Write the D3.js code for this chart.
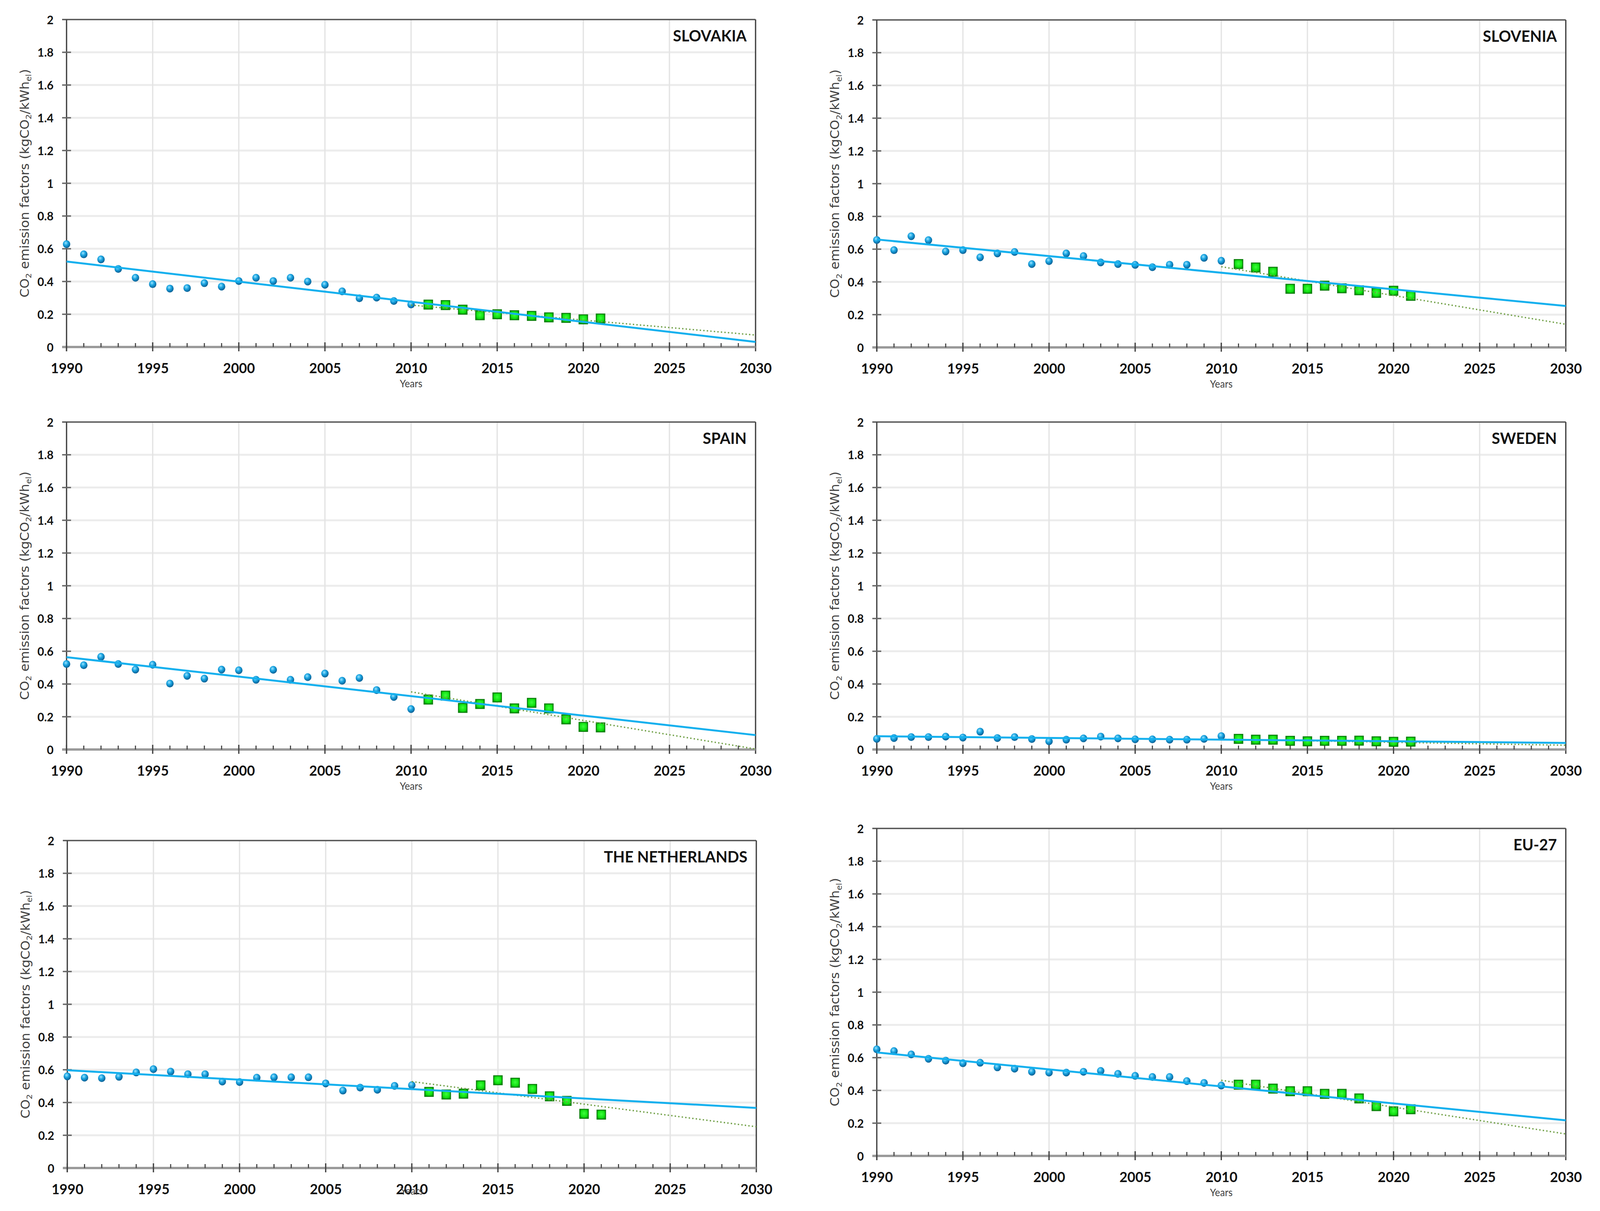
<!DOCTYPE html>
<html>
<head>
<meta charset="utf-8">
<script src="https://cdn.jsdelivr.net/npm/d3@7"></script>
<style>
  html, body { margin: 0; padding: 0; background: #fff; overflow: hidden; }
  svg { display: block; width: 100vw; height: 100vh; }
</style>
</head>
<body>
<svg id="chart" viewBox="0 0 4303 3099" preserveAspectRatio="none"></svg>
<script>
// Years: blue dots up to 2010, green squares after
const histYears = [1990, 1991, 1992, 1993, 1994, 1995, 1996, 1997, 1998, 1999, 2000,
                   2001, 2002, 2003, 2004, 2005, 2006, 2007, 2008, 2009, 2010];
const recentYears = [2011, 2012, 2013, 2014, 2015, 2016, 2017, 2018, 2019, 2020, 2021];

const xTicks = [1990, 1995, 2000, 2005, 2010, 2015, 2020, 2025, 2030];
const yTicks = [0, 0.2, 0.4, 0.6, 0.8, 1, 1.2, 1.4, 1.6, 1.8, 2];

// CO2 emission factors (kgCO2/kWh_el)
const slovakiaHist = [0.628, 0.566, 0.535, 0.477, 0.423, 0.384, 0.357, 0.36, 0.39, 0.369, 0.403,
                      0.423, 0.403, 0.423, 0.40, 0.38, 0.34, 0.298, 0.302, 0.281, 0.26];
const slovakiaRecent = [0.259, 0.256, 0.228, 0.194, 0.20, 0.194, 0.19, 0.181, 0.178, 0.169, 0.174];
const sloveniaHist = [0.656, 0.594, 0.679, 0.655, 0.586, 0.594, 0.55, 0.574, 0.583, 0.509, 0.527,
                      0.574, 0.558, 0.519, 0.509, 0.504, 0.49, 0.505, 0.505, 0.547, 0.529];
const sloveniaRecent = [0.509, 0.488, 0.462, 0.358, 0.358, 0.377, 0.361, 0.349, 0.333, 0.346, 0.315];
const spainHist = [0.522, 0.515, 0.566, 0.522, 0.488, 0.518, 0.403, 0.45, 0.433, 0.488, 0.484,
                   0.426, 0.487, 0.426, 0.442, 0.464, 0.42, 0.437, 0.363, 0.321, 0.247];
const spainRecent = [0.305, 0.329, 0.254, 0.278, 0.318, 0.251, 0.285, 0.251, 0.184, 0.138, 0.135];
const swedenHist = [0.065, 0.07, 0.076, 0.076, 0.079, 0.073, 0.109, 0.07, 0.076, 0.064, 0.05,
                    0.06, 0.068, 0.079, 0.068, 0.062, 0.062, 0.06, 0.06, 0.065, 0.082];
const swedenRecent = [0.065, 0.06, 0.06, 0.053, 0.05, 0.053, 0.053, 0.054, 0.05, 0.047, 0.048];
const netherlandsHist = [0.56, 0.552, 0.549, 0.557, 0.584, 0.604, 0.589, 0.573, 0.573, 0.528, 0.525,
                         0.552, 0.554, 0.554, 0.554, 0.517, 0.473, 0.491, 0.478, 0.502, 0.506];
const netherlandsRecent = [0.465, 0.449, 0.454, 0.505, 0.536, 0.521, 0.483, 0.438, 0.41, 0.331, 0.326];
const eu27Hist = [0.651, 0.64, 0.62, 0.593, 0.582, 0.566, 0.569, 0.541, 0.533, 0.514, 0.509,
                  0.509, 0.514, 0.519, 0.501, 0.489, 0.482, 0.482, 0.457, 0.446, 0.43];
const eu27Recent = [0.435, 0.435, 0.411, 0.395, 0.395, 0.379, 0.379, 0.351, 0.304, 0.272, 0.285];

// trend lines: [value at start year, value at 2030]
const trendYears = [1990, 2030];
const recentTrendYears = [2010, 2030];
const slovakiaTrend = [0.522, 0.031], slovakiaRecentTrend = [0.256, 0.073];
const sloveniaTrend = [0.659, 0.253], sloveniaRecentTrend = [0.493, 0.141];
const spainTrend = [0.564, 0.088], spainRecentTrend = [0.352, 0.003];
const swedenTrend = [0.081, 0.040], swedenRecentTrend = [0.062, 0.026];
const netherlandsTrend = [0.597, 0.367], netherlandsRecentTrend = [0.528, 0.252];
const eu27Trend = [0.632, 0.217], eu27RecentTrend = [0.462, 0.134];

const panels = [
  { name: "SLOVAKIA", hist: slovakiaHist, recent: slovakiaRecent, trend: slovakiaTrend, rtrend: slovakiaRecentTrend, left: 179, top: 50, yearsY: 103 },
  { name: "SLOVENIA", hist: sloveniaHist, recent: sloveniaRecent, trend: sloveniaTrend, rtrend: sloveniaRecentTrend, left: 2358, top: 51, yearsY: 103 },
  { name: "SPAIN", hist: spainHist, recent: spainRecent, trend: spainTrend, rtrend: spainRecentTrend, left: 179, top: 1080, yearsY: 103 },
  { name: "SWEDEN", hist: swedenHist, recent: swedenRecent, trend: swedenTrend, rtrend: swedenRecentTrend, left: 2358, top: 1080, yearsY: 103 },
  { name: "THE NETHERLANDS", hist: netherlandsHist, recent: netherlandsRecent, trend: netherlandsTrend, rtrend: netherlandsRecentTrend, left: 181, top: 2151, yearsY: 68 },
  { name: "EU-27", hist: eu27Hist, recent: eu27Recent, trend: eu27Trend, rtrend: eu27RecentTrend, left: 2358, top: 2120, yearsY: 103 }
];

const width = 1853, height = 838;
const svg = d3.select("#chart");
svg.append("rect").attr("width", 4303).attr("height", 3099).attr("fill", "#fff");

// marker gradients
const defs = svg.append("defs");
const ball = defs.append("radialGradient").attr("id", "ball")
  .attr("cx", "40%").attr("cy", "35%").attr("r", "65%");
ball.append("stop").attr("offset", "0%").attr("stop-color", "#9be4ff");
ball.append("stop").attr("offset", "45%").attr("stop-color", "#1aa5e2");
ball.append("stop").attr("offset", "100%").attr("stop-color", "#0a5f94");
const sq = defs.append("radialGradient").attr("id", "sq")
  .attr("cx", "50%").attr("cy", "45%").attr("r", "60%");
sq.append("stop").attr("offset", "0%").attr("stop-color", "#3dff3d");
sq.append("stop").attr("offset", "70%").attr("stop-color", "#10e010");
sq.append("stop").attr("offset", "100%").attr("stop-color", "#0a9a0a");

function fmt(d) { return String(+d.toFixed(1)); }

function drawPanel(p) {
  const g = svg.append("g").attr("transform", `translate(${p.left},${p.top})`);
  const x = d3.scaleLinear().domain([1990, 2030]).range([0, width]);
  const y = d3.scaleLinear().domain([0, 2]).range([height, 0]);

  // gridlines
  g.selectAll(".hgrid").data(yTicks.filter(d => d > 0 && d < 2)).join("line")
    .attr("x1", 0).attr("x2", width)
    .attr("y1", d => y(d)).attr("y2", d => y(d))
    .attr("stroke", "#ececec").attr("stroke-width", 5);
  g.selectAll(".vgrid").data(xTicks.filter(d => d > 1990 && d < 2030)).join("line")
    .attr("x1", d => x(d)).attr("x2", d => x(d))
    .attr("y1", 0).attr("y2", height)
    .attr("stroke", "#e4e4e4").attr("stroke-width", 3.5);

  // frame
  g.append("line").attr("x1", -12).attr("x2", width).attr("y1", 0).attr("y2", 0)
    .attr("stroke", "#555").attr("stroke-width", 3.5);
  g.append("line").attr("x1", width).attr("x2", width).attr("y1", 0).attr("y2", height + 11)
    .attr("stroke", "#444").attr("stroke-width", 3.5);
  g.append("line").attr("x1", -12).attr("x2", width).attr("y1", height).attr("y2", height)
    .attr("stroke", "#9a9a9a").attr("stroke-width", 6);
  g.append("line").attr("x1", 0).attr("x2", 0).attr("y1", 0).attr("y2", height + 11)
    .attr("stroke", "#444").attr("stroke-width", 3.5);

  // y ticks
  g.selectAll(".ytick").data(yTicks.filter(d => d > 0 && d < 2)).join("line")
    .attr("x1", -12).attr("x2", 12)
    .attr("y1", d => y(d)).attr("y2", d => y(d))
    .attr("stroke", "#666").attr("stroke-width", 3.5);
  // x ticks: minor every year, major every 5
  const minor = x.ticks(40).filter(d => d % 5 !== 0);
  g.selectAll(".xminor").data(minor).join("line")
    .attr("x1", d => x(d)).attr("x2", d => x(d))
    .attr("y1", height - 10).attr("y2", height)
    .attr("stroke", "#444").attr("stroke-width", 3);
  g.selectAll(".xmajor").data(xTicks.filter(d => d < 2030)).join("line")
    .attr("x1", d => x(d)).attr("x2", d => x(d))
    .attr("y1", height - 12).attr("y2", height + 11)
    .attr("stroke", "#444").attr("stroke-width", 3.5);

  // axis labels
  const ya = g.append("g").call(d3.axisLeft(y).tickValues(yTicks).tickSize(0).tickPadding(35).tickFormat(fmt));
  ya.select(".domain").remove();
  ya.selectAll("text").attr("font-family", "Lato").attr("font-weight", 700)
    .attr("font-size", 31).attr("fill", "#111").attr("dy", "0.36em");

  const xa = g.append("g").attr("transform", `translate(0,${height})`)
    .call(d3.axisBottom(x).tickValues(xTicks).tickSize(0).tickFormat(d3.format("d")));
  xa.select(".domain").remove();
  xa.selectAll("text").attr("y", 67).attr("dy", null)
    .attr("font-family", "Lato").attr("font-weight", 700)
    .attr("font-size", 37).attr("fill", "#111");

  g.append("text").attr("x", width / 2).attr("y", height + p.yearsY)
    .attr("text-anchor", "middle").attr("font-family", "Lato")
    .attr("font-size", 26).attr("fill", "#404040").text("Years");

  // y title
  const yt = g.append("text")
    .attr("transform", `translate(-113,${height / 2}) rotate(-90)`)
    .attr("text-anchor", "middle").attr("dy", "0.35em")
    .attr("font-family", "DejaVu Sans").attr("font-size", 33).attr("fill", "#404040");
  yt.append("tspan").text("CO");
  yt.append("tspan").attr("font-size", 21).attr("dy", 7).text("2");
  yt.append("tspan").attr("dy", -7).text(" emission factors (kgCO");
  yt.append("tspan").attr("font-size", 21).attr("dy", 7).text("2");
  yt.append("tspan").attr("dy", -7).text("/kWh");
  yt.append("tspan").attr("font-size", 21).attr("dy", 7).text("el");
  yt.append("tspan").attr("dy", -7).text(")");

  // country title
  g.append("text").attr("x", width - 24).attr("y", 56)
    .attr("text-anchor", "end").attr("font-family", "Lato").attr("font-weight", 700)
    .attr("font-size", 41).attr("fill", "#111").text(p.name);

  // markers
  g.selectAll(".dot").data(histYears.map((yr, i) => ({ yr, v: p.hist[i] }))).join("circle")
    .attr("cx", d => x(d.yr)).attr("cy", d => y(d.v)).attr("r", 10)
    .attr("fill", "url(#ball)");
  const s = 23;
  g.selectAll(".sq").data(recentYears.map((yr, i) => ({ yr, v: p.recent[i] }))).join("rect")
    .attr("x", d => x(d.yr) - s / 2).attr("y", d => y(d.v) - s / 2)
    .attr("width", s).attr("height", s)
    .attr("fill", "url(#sq)").attr("stroke", "#0b7f0b").attr("stroke-width", 2.5);

  // trend lines
  const line = d3.line().x(d => x(d.yr)).y(d => y(d.v));
  g.append("path").datum(recentTrendYears.map((yr, i) => ({ yr, v: p.rtrend[i] })))
    .attr("d", line).attr("fill", "none").attr("stroke", "#6f9f45")
    .attr("stroke-width", 3.5).attr("stroke-dasharray", "3.5,6");
  g.append("path").datum(trendYears.map((yr, i) => ({ yr, v: p.trend[i] })))
    .attr("d", line).attr("fill", "none").attr("stroke", "#14b0ee")
    .attr("stroke-width", 5);
}

panels.forEach(drawPanel);
</script>
</body>
</html>
